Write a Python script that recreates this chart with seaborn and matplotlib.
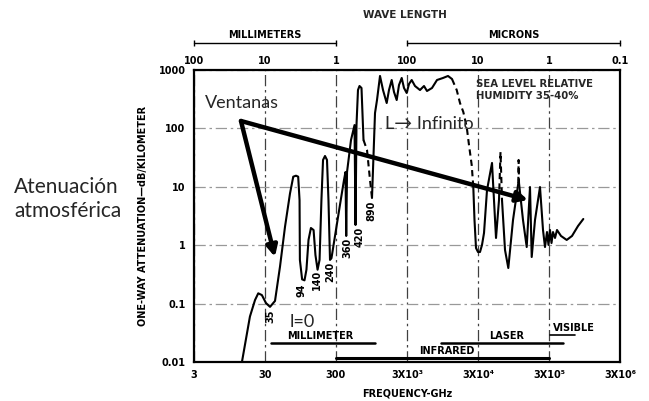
import matplotlib
matplotlib.use("Agg")
import matplotlib.pyplot as plt
import seaborn as sns
from matplotlib.ticker import NullLocator, FixedLocator

# --- data ------------------------------------------------------------------
# frequency in GHz, one-way attenuation in dB/km
freq_mm = [14.2, 18.4, 21.7, 24.1, 27.1, 31, 35.3, 41.5, 48.8, 57.4, 67.5, 75,
           82, 88, 92, 93, 100, 108, 115, 123, 133, 145, 154, 165, 176, 187,
           197, 210, 224, 235, 247, 259, 341, 389, 408, 418, 429, 488, 547,
           565, 583, 612, 643, 686, 732]
atten_mm = [0.01, 0.06, 0.115, 0.15, 0.14, 0.102, 0.088, 0.111, 0.43, 2.07,
            7.7, 14.9, 15.5, 14.9, 5.9, 0.56, 0.26, 0.25, 0.38, 1.23, 1.97,
            1.82, 0.68, 0.38, 0.56, 5.9, 28.8, 33.7, 28.8, 5.9, 0.56, 0.6,
            4.88, 13.1, 17.9, 1.44, 17.9, 63.3, 114, 2.22, 114, 454, 532,
            492, 63.3]

freq_dash1 = [732, 820, 904, 964]
atten_dash1 = [63.3, 42.7, 13.1, 6.43]

freq_far = [964, 1063, 1134, 1250, 1378, 1553, 1673, 1826, 1968, 2148, 2315,
            2527, 2722, 2970, 3201, 3494, 3889, 4574, 5206, 5738, 6749, 7938,
            9642, 11340, 12910]
atten_far = [6.43, 183, 306, 790, 454, 272, 454, 674, 420, 306, 554, 730, 492,
             404, 576, 674, 532, 454, 532, 437, 492, 674, 730, 790, 701]

freq_dash2 = [12910, 15040, 16740, 18630, 20800, 22400, 24460, 25760]
atten_dash2 = [701, 454, 272, 191, 106, 52, 23.6, 9.9]

freq_ir = [25760, 26780, 28120, 30000, 32010, 34160, 36460, 40180, 47250,
           53800, 59290]
atten_ir = [9.9, 2.7, 0.895, 0.765, 0.765, 1.01, 1.62, 8.8, 25.6, 1.33, 5.94]

freq_dash3 = [59290, 62250, 65340]
atten_dash3 = [5.94, 39.4, 5.94]

freq_ir2 = [65340, 72040, 80170, 93370, 110900]
atten_ir2 = [5.94, 0.828, 0.407, 2.7, 11.6]

freq_dash4 = [110900, 112000, 113400]
atten_dash4 = [11.6, 28.8, 11.6]

freq_vis = [113400, 129100, 145600, 162000, 171200, 190500, 224000, 247000,
            263500, 281200, 295200, 309900, 325300, 341600, 364500, 388900,
            442700, 532500, 632700, 768600, 912600]
atten_vis = [11.6, 2.7, 0.931, 9.9, 0.628, 2.7, 9.9, 1.82, 0.931, 1.68, 1.01,
             1.82, 1.09, 1.68, 1.33, 1.82, 1.44, 1.23, 1.44, 2.13, 2.81]

x_ticks = [3, 30, 300, 3e3, 3e4, 3e5, 3e6]
x_labels = ["3", "30", "300", "3X10³", "3X10⁴", "3X10⁵", "3X10⁶"]
wave_labels = ["100", "10", "1", "100", "10", "1", "0.1"]
y_ticks = [0.01, 0.1, 1, 10, 100, 1000]
y_labels = ["0.01", "0.1", "1", "10", "100", "1000"]

window_names = ["35", "94", "140", "240", "360", "420", "890"]
window_freq = [35.3, 98, 163, 247, 440, 640, 934]
window_top = [0.08, 0.225, 0.376, 0.515, 1.33, 2.05, 5.9]

# --- style --------------------------------------------------------------
sns.set_theme(style="white")
plt.rcParams["font.family"] = ["DejaVu Sans"]
bold = dict(fontweight="bold", fontsize=7, color="black")
spanish = ["Lato", "DejaVu Sans"]

fig = plt.figure(figsize=(6.49, 4.01), dpi=100)
ax = fig.add_axes([194 / 649, 1 - 362 / 401, 426 / 649, 292 / 401])

# curve pieces
solid = [(freq_mm, atten_mm), (freq_far, atten_far), (freq_ir, atten_ir),
         (freq_ir2, atten_ir2), (freq_vis, atten_vis)]
dashed = [(freq_dash1, atten_dash1), (freq_dash2, atten_dash2),
          (freq_dash3, atten_dash3), (freq_dash4, atten_dash4)]
for fx, ay in solid:
    sns.lineplot(x=fx, y=ay, ax=ax, sort=False, estimator=None,
                 color="black", lw=1.5)
for fx, ay in dashed:
    sns.lineplot(x=fx, y=ay, ax=ax, sort=False, estimator=None,
                 color="black", lw=1.5, linestyle=(0, (3, 2)))

ax.set_xscale("log")
ax.set_yscale("log")
ax.set_xlim(3, 3e6)
ax.set_ylim(0.01, 1000)

ax.xaxis.set_major_locator(FixedLocator(x_ticks))
ax.xaxis.set_minor_locator(NullLocator())
ax.yaxis.set_major_locator(FixedLocator(y_ticks))
ax.yaxis.set_minor_locator(NullLocator())
ax.set_xticklabels(x_labels, **bold)
ax.set_yticklabels(y_labels, **bold)
ax.tick_params(length=0, pad=6)

ax.grid(axis="x", color="0.25", ls=(0, (9, 3, 2, 3)), lw=0.9)
ax.grid(axis="y", color="0.6", ls=(0, (9, 3, 2, 3)), lw=0.9)
for s in ax.spines.values():
    s.set_color("black")
    s.set_linewidth(1.6)

ax.set_xlabel("FREQUENCY-GHz", **bold)
ax.xaxis.set_label_coords(0.5, -0.09)
ax.set_ylabel("ONE-WAY ATTENUATION—dB/KILOMETER", **bold)
ax.yaxis.set_label_coords(-0.108, 0.5)

# top wavelength axis
top = ax.secondary_xaxis("top")
top.xaxis.set_major_locator(FixedLocator(x_ticks))
top.xaxis.set_minor_locator(NullLocator())
top.set_xticklabels(wave_labels, **bold)
top.tick_params(length=0, pad=3)
top.spines["top"].set_visible(False)

tr = ax.get_xaxis_transform()
for lo, hi, name in [(3, 300, "MILLIMETERS"), (3e3, 3e6, "MICRONS")]:
    ax.plot([lo, hi], [1.092, 1.092], transform=tr, clip_on=False,
            color="black", lw=1.0, marker="|", ms=5)
    mid = (lo * hi) ** 0.5
    ax.text(mid, 1.103, name, transform=tr, ha="center", va="bottom", **bold)
fig.text(405 / 649, 1 - 15 / 401, "WAVE LENGTH", ha="center", va="center",
         fontweight="bold", fontsize=7.5)

# window labels
for name, fx, ty in zip(window_names, window_freq, window_top):
    ax.text(fx, ty, name, rotation=90, ha="center", va="top", **bold)

# band bars
ax.plot([37, 1056], [0.021, 0.021], color="black", lw=1.8)
ax.text(178, 0.0225, "MILLIMETER", ha="center", va="bottom", **bold)
ax.plot([9150, 4.7e5], [0.021, 0.021], color="black", lw=1.8)
ax.text(7.6e4, 0.0225, "LASER", ha="center", va="bottom", **bold)
ax.plot([3.1e5, 7e5], [0.029, 0.029], color="black", lw=1.2)
ax.text(6.7e5, 0.031, "VISIBLE", ha="center", va="bottom", **bold)
ax.plot([300, 3e5], [0.0117, 0.0117], color="black", lw=2.2)
ax.text(1.1e4, 0.0128, "INFRARED", ha="center", va="bottom", **bold)

ax.text(2.8e4, 690, "SEA LEVEL RELATIVE\nHUMIDITY 35-40%", ha="left",
        va="top", fontweight="bold", fontsize=7.3, linespacing=1.15)

# annotations in Spanish
arrow = dict(arrowstyle="-|>", lw=3.2, color="black", mutation_scale=16,
             shrinkA=0, shrinkB=0)
ax.annotate("", xy=(41.4, 0.63), xytext=(13.76, 134), arrowprops=arrow)
ax.annotate("", xy=(1.52e5, 5.94), xytext=(13.76, 134), arrowprops=arrow)
ax.text(4.3, 270, "Ventanas", ha="left", va="center", fontsize=13,
        family=spanish)
ax.text(1469, 119, "L→ Infinito", ha="left", va="center", fontsize=13,
        family=spanish)
ax.text(67.5, 0.048, "l=0", ha="left", va="center", fontsize=13,
        family=spanish)
fig.text(14 / 649, 1 - 199 / 401, "Atenuación\natmosférica", ha="left",
         va="center", fontsize=15, family=spanish, linespacing=1.3)

fig.savefig("out.png", dpi=100)
